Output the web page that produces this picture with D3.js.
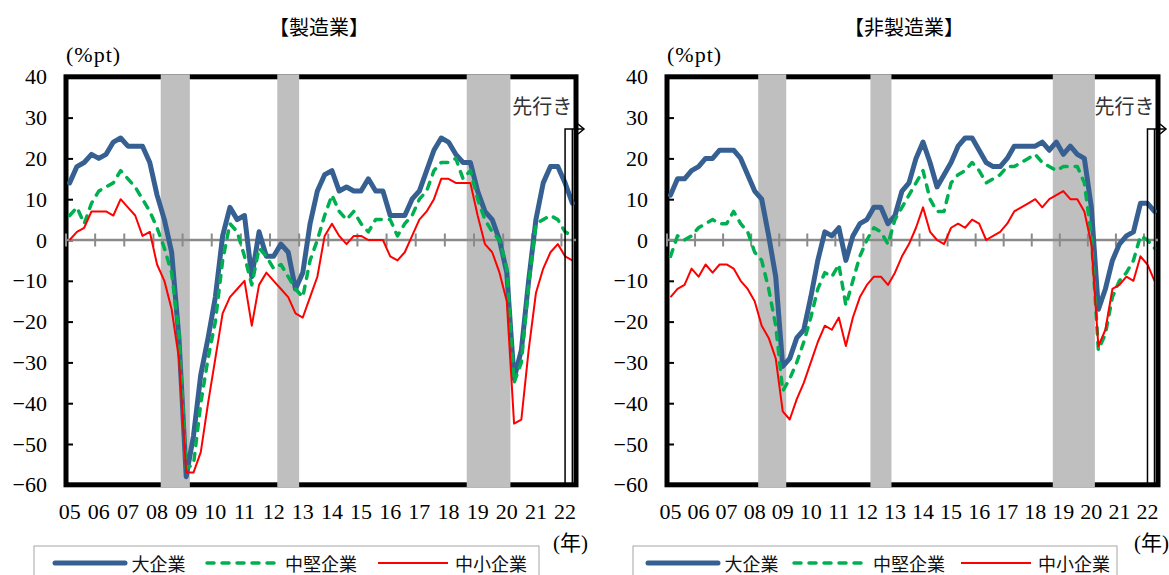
<!DOCTYPE html>
<html><head><meta charset="utf-8">
<script src="https://cdn.jsdelivr.net/npm/d3@7"></script>
<style>
html,body{margin:0;padding:0;background:#fff;}
svg{display:block;}
</style></head><body>
<svg id="chart" width="1169" height="575"></svg>
<script>
// ---------- data ----------
const yearLabels = ["05","06","07","08","09","10","11","12","13","14","15","16","17","18","19","20","21","22"];
const quarterNames = ["Q1","Q2","Q3","Q4"];
const quarters = [];
yearLabels.forEach(y => quarterNames.forEach(q => quarters.push("20" + y + q)));
const categories = quarters.slice(0, 70); // 2005Q1 .. 2022Q2 (last = 先行き)

const seriesNames = ["大企業", "中堅企業", "中小企業"];
const panelTitles = ["【製造業】", "【非製造業】"];
const yTicks = [40, 30, 20, 10, 0, -10, -20, -30, -40, -50, -60];
const recessions = [["2008Q2", "2009Q1"], ["2012Q2", "2012Q4"], ["2018Q4", "2020Q1"]];
const forecastSpan = ["2022Q1", "2022Q2"];
const forecastLabel = "先行き";
const unitLabel = "(%pt)";
const yearUnit = "(年)";

// 製造業
const mfgLarge = [14,18,19,21,20,21,24,25,23,23,23,19, 11,5,-3,-24,-58,-48,-33,-24,-14,1,8,5, 6,-9,2,-4,-4,-1,-3,-12,-8,4,12,16, 17,12,13,12,12,15,12,12,6,6,6,10, 12,17,22,25,24,21,19,19,12,7,5,0, -8,-34,-27,-10,5,14,18,18,14,9];
const mfgMedium = [6,8,4,9,12,13,14,17,15,13,10,7, 3,-2,-8,-23,-56,-55,-40,-29,-20,-5,4,2, -4,-11,-2,-4,-7,-6,-9,-12,-14,-5,0,6, 11,7,5,7,4,2,5,5,5,1,4,6, 10,12,17,19,19,20,15,17,10,5,2,0, -7,-35,-30,-11,4,5,6,5,2,1];
const mfgSmall = [0,2,3,7,7,7,6,10,8,6,1,2, -6,-10,-17,-29,-57,-57,-52,-40,-29,-18,-14,-12, -10,-21,-11,-8,-10,-12,-14,-18,-19,-14,-9,1, 4,1,-1,1,1,0,0,0,-4,-5,-3,1, 5,7,10,15,15,14,14,14,6,-1,-3,-8, -15,-45,-44,-27,-13,-7,-3,-1,-4,-5];
// 非製造業
const nonLarge = [11,15,15,17,18,20,20,22,22,22,20,16, 12,10,1,-9,-31,-29,-24,-22,-14,-5,2,1, 3,-5,1,4,5,8,8,4,6,12,14,20, 24,19,13,16,19,23,25,25,22,19,18,18, 20,23,23,23,23,24,22,24,21,23,21,20, 8,-17,-12,-5,-1,1,2,9,9,7];
const nonMedium = [-4,1,0,1,3,4,5,4,4,7,4,2, -3,-5,-12,-21,-37,-34,-30,-25,-19,-12,-8,-9, -6,-16,-10,-4,0,3,2,-1,5,8,11,14, 17,10,7,7,14,16,17,19,17,14,15,16, 18,18,19,20,21,19,18,17,18,18,18,14, 1,-27,-23,-14,-10,-8,-5,1,0,-2];
const nonSmall = [-14,-12,-11,-7,-9,-6,-8,-6,-6,-7,-10,-12, -15,-21,-24,-29,-42,-44,-39,-35,-30,-25,-21,-22, -19,-26,-19,-14,-11,-9,-9,-11,-8,-4,-1,3, 8,2,0,-1,3,4,3,5,4,0,1,2, 4,7,8,9,10,8,10,11,12,10,10,7, -1,-26,-22,-12,-11,-9,-10,-4,-6,-10];

// ---------- styles / layout ----------
const seriesStyles = [
  {color: "#376092", width: 5, dash: null, cap: "round"},
  {color: "#00B050", width: 3.5, dash: "7,8", cap: "round"},
  {color: "#FF0000", width: 2, dash: null, cap: "butt"}
];
const panels = [
  {x0: 66, x1: 576, titleX: 319, series: [mfgLarge, mfgMedium, mfgSmall], title: panelTitles[0],
   legend: {x0: 34, x1: 539, items: [[55, 131.5], [207, 285], [378, 455]]}, nenX: 553},
  {x0: 667, x1: 1158, titleX: 904, series: [nonLarge, nonMedium, nonSmall], title: panelTitles[1],
   legend: {x0: 633, x1: 1117, items: [[648, 724.5], [794, 873], [961, 1038]]}, nenX: 1134}
];
const SERIF = "'Liberation Serif', 'Noto Sans CJK JP', serif";
const CJK = "'Noto Sans CJK JP', sans-serif";

const svg = d3.select("#chart");
svg.append("rect").attr("width", 1169).attr("height", 575).attr("fill", "#fff");

const y = d3.scaleLinear().domain([-60, 40]).range([484.8, 76.8]);
const fmt = d => d < 0 ? "\u2212" + (-d) : String(d);

panels.forEach(p => {
  const g = svg.append("g");
  const x = d3.scaleBand().domain(categories).range([p.x0, p.x1]).padding(0);
  const bw = x.bandwidth();
  const cx = q => x(q) + bw / 2;

  // title
  g.append("text").attr("x", p.titleX).attr("y", 26).attr("text-anchor", "middle")
    .attr("dominant-baseline", "central").attr("font-family", CJK).attr("font-size", 20)
    .attr("fill", "#000").text(p.title);
  // unit
  g.append("text").attr("x", p.x0).attr("y", 62).attr("font-family", SERIF).attr("font-size", 22)
    .attr("letter-spacing", 1).attr("fill", "#000").text(unitLabel);

  // frame
  g.append("rect").attr("x", p.x0).attr("y", y(40)).attr("width", p.x1 - p.x0)
    .attr("height", y(-60) - y(40)).attr("fill", "none").attr("stroke", "#000").attr("stroke-width", 5);

  // y axis
  const ya = g.append("g").attr("transform", `translate(${p.x0},0)`)
    .call(d3.axisLeft(y).tickValues(yTicks).tickSizeInner(-7).tickSizeOuter(0).tickPadding(19).tickFormat(fmt));
  ya.select(".domain").remove();
  ya.selectAll(".tick line").attr("stroke", "#000").attr("stroke-width", 2);
  ya.selectAll(".tick text").attr("font-family", SERIF).attr("font-size", 22).attr("fill", "#000");

  // x axis labels
  const xa = g.append("g").attr("transform", `translate(0,${y(-60)})`)
    .call(d3.axisBottom(x).tickValues(categories.filter(q => q.endsWith("Q1")))
      .tickFormat(q => q.slice(2, 4)).tickSize(0).tickPadding(18.5));
  xa.select(".domain").remove();
  xa.selectAll(".tick text").attr("font-family", SERIF).attr("font-size", 22).attr("fill", "#000");

  // recession shading (drawn over frame, like the original)
  g.append("g").selectAll("rect").data(recessions).join("rect")
    .attr("x", d => x(d[0])).attr("width", d => x(d[1]) + bw - x(d[0]))
    .attr("y", y(40) - 2.5).attr("height", y(-60) - y(40) + 5).attr("fill", "#BFBFBF");

  // zero line and year ticks
  g.append("line").attr("x1", p.x0).attr("x2", p.x1).attr("y1", y(0)).attr("y2", y(0))
    .attr("stroke", "#8A8A8A").attr("stroke-width", 2.5);
  g.append("g").selectAll("line").data(categories.filter(q => q.endsWith("Q1"))).join("line")
    .attr("x1", d => x(d)).attr("x2", d => x(d)).attr("y1", y(0) - 6.5).attr("y2", y(0) + 6.5)
    .attr("stroke", "#8A8A8A").attr("stroke-width", 2);

  // series lines
  const line = d3.line().x((d, i) => cx(categories[i])).y(d => y(d));
  p.series.forEach((s, k) => {
    const st = seriesStyles[k];
    g.append("path").datum(s).attr("d", line).attr("fill", "none")
      .attr("stroke", st.color).attr("stroke-width", st.width)
      .attr("stroke-linejoin", "round").attr("stroke-linecap", st.cap)
      .attr("stroke-dasharray", st.dash);
  });

  // forecast bracket + arrow
  const fx0 = cx(forecastSpan[0]), fx1 = cx(forecastSpan[1]);
  const fy = 129, tip = p.x1 + 8;
  g.append("path").attr("d", `M${fx0},${y(-60)}V${fy}H${tip}M${fx1},${fy}V${y(-60)}`)
    .attr("fill", "none").attr("stroke", "#000").attr("stroke-width", 1.5);
  g.append("path").attr("d", `M${tip - 6},${fy - 5}L${tip},${fy}L${tip - 6},${fy + 5}`)
    .attr("fill", "none").attr("stroke", "#000").attr("stroke-width", 1.5);
  g.append("text").attr("x", fx1).attr("y", 105).attr("text-anchor", "end")
    .attr("dominant-baseline", "central").attr("font-family", CJK).attr("font-size", 20)
    .attr("fill", "#333").text(forecastLabel);

  // (年)
  g.append("text").attr("x", p.nenX).attr("y", 543).attr("dominant-baseline", "central")
    .attr("font-family", SERIF).attr("font-size", 21).attr("fill", "#000").text(yearUnit);

  // legend
  g.append("rect").attr("x", p.legend.x0).attr("y", 546).attr("width", p.legend.x1 - p.legend.x0)
    .attr("height", 45).attr("fill", "#fff").attr("stroke", "#A6A6A6").attr("stroke-width", 1);
  p.legend.items.forEach((it, k) => {
    const st = seriesStyles[k];
    g.append("line").attr("x1", it[0]).attr("x2", it[0] + 70).attr("y1", 563).attr("y2", 563)
      .attr("stroke", st.color).attr("stroke-width", st.width).attr("stroke-linecap", st.cap)
      .attr("stroke-dasharray", st.dash);
    g.append("text").attr("x", it[1]).attr("y", 563).attr("dominant-baseline", "central")
      .attr("font-family", CJK).attr("font-size", 18).attr("fill", "#111").text(seriesNames[k]);
  });
});
</script>
</body></html>
